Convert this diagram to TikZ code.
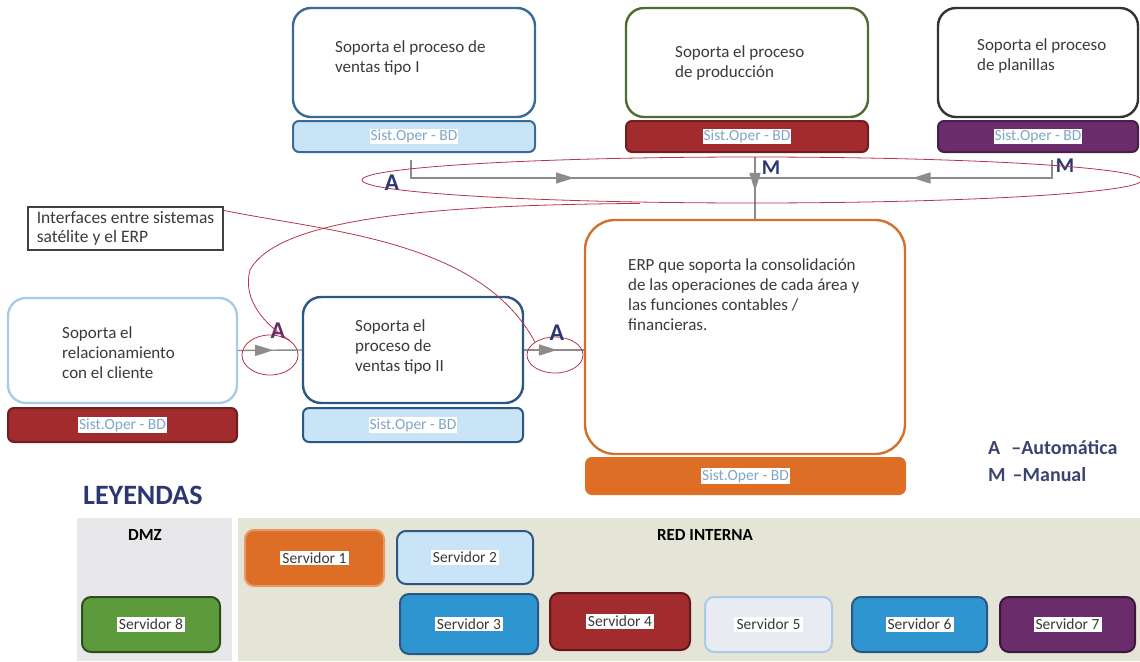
\documentclass[tikz,border=0pt]{standalone}
\usepackage{fontspec}
\setmainfont{Carlito}
\usetikzlibrary{positioning, calc, arrows.meta, shapes.geometric, decorations.markings}

\definecolor{sysblue}{HTML}{3A6A98}
\definecolor{sysdblue}{HTML}{2B5882}
\definecolor{syslblue}{HTML}{A9CBE8}
\definecolor{sysgreen}{HTML}{4F6D2F}
\definecolor{sysorange}{HTML}{D2702C}
\definecolor{barblue}{HTML}{C8E4F6}
\definecolor{barred}{HTML}{A12B2D}
\definecolor{barpurple}{HTML}{6B2C6B}
\definecolor{barorange}{HTML}{DE6E26}
\definecolor{midblue}{HTML}{2E95D0}
\definecolor{srvgreen}{HTML}{5C9A3C}
\definecolor{srvgray}{HTML}{E9EBF3}
\definecolor{textgray}{HTML}{3A3A3A}
\definecolor{sotxt}{HTML}{7FA6C6}
\definecolor{flowgray}{HTML}{8C8C8C}
\definecolor{markred}{HTML}{B5364A}
\definecolor{navy}{HTML}{2C3670}
\definecolor{legendtxt}{HTML}{3A4470}
\definecolor{dmzbg}{HTML}{E8E8EA}
\definecolor{redbg}{HTML}{E5E5D7}

\begin{document}
\begin{tikzpicture}
  [
    x=1pt, y=-1pt,
    sys/.style={draw, line width=2.4pt, rounded corners=18pt, fill=white, inner sep=0pt},
    sobar/.style={draw, line width=2pt, rounded corners=6pt, inner sep=0pt},
    sotext/.style={fill=white, text=sotxt, inner sep=1pt, font=\fontsize{15.5}{17}\selectfont},
    body/.style={anchor=north west, align=left, text=textgray, inner sep=0pt, font=\fontsize{17}{20}\selectfont},
    flow/.style={draw=flowgray, line width=1.4pt},
    midarrow/.style={postaction={decorate}, decoration={markings, mark=at position #1 with {\arrow{Triangle[width=11pt,length=18pt]}}}},
    redmark/.style={draw=markred, line width=0.8pt, ellipse, inner sep=0pt},
    letter/.style={font=\bfseries\fontsize{24}{24}\selectfont, text=navy, inner sep=0pt},
    mletter/.style={font=\bfseries\fontsize{21}{21}\selectfont, text=navy, inner sep=0pt},
    srv/.style={draw, line width=2pt, rounded corners=9pt, inner sep=0pt},
    srvtext/.style={fill=white, text=textgray, inner sep=2pt, font=\fontsize{15.5}{17}\selectfont},
    zone/.style={font=\bfseries\fontsize{17}{19}\selectfont, inner sep=0pt}
  ]
  \useasboundingbox (0,0) rectangle (1140,661);
  % satellite systems, top row
  \node [sys, draw=sysblue, minimum width=242pt, minimum height=109pt] (v1) at (414,62.5) {};
  \node [sobar, draw=sysblue, fill=barblue, minimum width=242pt, minimum height=31pt] (so1) at (414,136.5) {};
  \node [sys, draw=sysgreen, minimum width=242pt, minimum height=109pt] (prod) at (747,62.5) {};
  \node [sobar, draw=barred!70!black, fill=barred, minimum width=242pt, minimum height=31pt] (so2) at (747,136.5) {};
  \node [sys, draw=black!80, minimum width=200pt, minimum height=109pt] (plan) at (1038,62.5) {};
  \node [sobar, draw=barpurple!70!black, fill=barpurple, minimum width=200pt, minimum height=31pt] (so3) at (1038,136.5) {};
  \node [body] (tv1) at (335,40) {Soporta el proceso de\\ventas tipo I};
  \node [body] (tprod) at (675,45) {Soporta el proceso\\de producción};
  \node [body] (tplan) at (977,38) {Soporta el proceso\\de planillas};
  % satellite systems, middle row
  \node [sys, draw=syslblue, minimum width=229pt, minimum height=105pt] (rel) at (122.5,350.5) {};
  \node [sobar, draw=barred!70!black, fill=barred, minimum width=229pt, minimum height=34pt] (so4) at (122.5,425) {};
  \node [sys, draw=sysdblue, minimum width=220pt, minimum height=106pt] (v2) at (413,350) {};
  \node [sobar, draw=sysdblue, fill=barblue, minimum width=220pt, minimum height=34pt] (so5) at (413,425) {};
  \node [body] (trel) at (62,326) {Soporta el\\relacionamiento\\con el cliente};
  \node [body] (tv2) at (355,319) {Soporta el\\proceso de\\ventas tipo II};
  % ERP
  \node [sys, draw=sysorange, rounded corners=30pt, minimum width=320pt, minimum height=234pt] (erp) at (745,337) {};
  \node [sobar, draw=barorange, fill=barorange, minimum width=319pt, minimum height=36pt] (so6) at (745.5,476) {};
  \node [body] (terp) at (628,258) {ERP que soporta la consolidación\\de las operaciones de cada área y\\las funciones contables /\\financieras.};
  \foreach \b in {so1,so2,so3,so4,so5,so6} {
      \node [sotext] at (\b) {Sist.Oper - BD};
  }
  % interfaces to the ERP
  \coordinate (ta) at (411,160);
  \coordinate (tm) at (1052,160);
  \coordinate (hub) at (755,178);
  \coordinate (tp) at (755,157);
  \draw [flow, midarrow=0.5] (ta) |- (hub);
  \draw [flow, midarrow=0.5] (tm) |- (hub);
  \draw [flow, midarrow=0.55] (tp) -- (tp |- erp.north);
  \draw [flow, midarrow=0.55] (rel.east) -- (v2.west);
  \draw [flow, midarrow=0.55] (v2.east) -- (v2.east -| erp.west);
  \node [letter] (la1) at (392,183) {A};
  \node [mletter] (lm1) at (771,168) {M};
  \node [mletter] (lm2) at (1065,166) {M};
  % red marks
  \node [redmark, minimum width=780pt, minimum height=46pt] (e0) at (752,180) {};
  \node [redmark, minimum width=56pt, minimum height=40pt] (e1) at (270,355) {};
  \node [redmark, minimum width=56pt, minimum height=36pt] (e2) at (555,355) {};
  \node [letter, text=barpurple!80!navy] (la2) at (278,331) {A};
  \node [letter] (la3) at (557,333) {A};
  \node [draw=black!75, line width=1.2pt, minimum width=195pt, minimum height=43pt,
         align=left, text=textgray, font=\fontsize{17.5}{19}\selectfont] (ifc) at (125.5,228.5)
        {Interfaces entre sistemas\\satélite y el ERP};
  \draw [draw=markred, line width=0.8pt]
  ([yshift=-4pt]ifc.north east) .. controls (330,232) and (480,240) .. (e2.north west);
  \draw [draw=markred, line width=0.8pt]
  ([xshift=-112pt]e0.south) .. controls (450,205) and (280,215) .. (250,270)
  .. controls (242,300) and (265,325) .. (e1.north east);
  % key
  \node [anchor=west, text=legendtxt, font=\bfseries\fontsize{20}{24}\selectfont, inner sep=0pt] (ka) at (988,448) {A\hspace{11pt}–Automática};
  \node [anchor=west, text=legendtxt, font=\bfseries\fontsize{20}{24}\selectfont, inner sep=0pt] (km) at (988,475) {M\hspace{7pt}–Manual};
  \node [anchor=west, text=navy, font=\bfseries\fontsize{28}{30}\selectfont, inner sep=0pt] (ley) at (83,495) {LEYENDAS};
  % servers
  \fill [dmzbg] (77,518) rectangle (232,661);
  \fill [redbg] (238,518) rectangle (1140,661);
  \node [zone] (dmz) at (145,535) {DMZ};
  \node [zone] (red) at (705,535) {RED INTERNA};
  \foreach \n/\cx/\cy/\w/\h/\fc/\dc in {
      1/314.5/558/139/56/barorange/barorange!70!white,
      2/465/557.5/136/53/barblue/sysdblue,
      3/469/624/138/60/midblue/sysdblue,
      4/620/621.5/140/57/barred/barred!60!black,
      5/768.5/624.5/127/55/srvgray/syslblue,
      6/919.5/624.5/135/55/midblue/sysdblue,
      7/1067.5/624.5/135/55/barpurple/barpurple!55!black,
      8/151/624.5/138/55/srvgreen/srvgreen!50!black} {
      \node [srv, fill=\fc, draw=\dc, minimum width=\w pt, minimum height=\h pt] (s\n) at (\cx,\cy) {};
      \node [srvtext] at (s\n) {Servidor \n};
  }
\end{tikzpicture}
\end{document}
